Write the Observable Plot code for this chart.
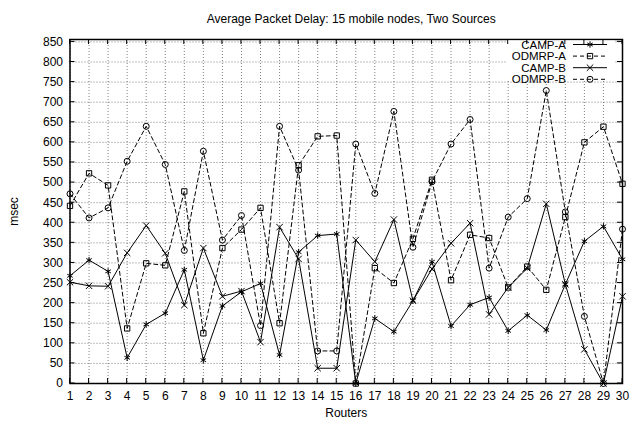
<!DOCTYPE html>
<html><head><meta charset="utf-8">
<script src="https://cdn.jsdelivr.net/npm/d3@7"></script>
<script src="https://cdn.jsdelivr.net/npm/@observablehq/plot@0.6"></script>
<style>
body{margin:0;background:#fff;}
#chart{width:643px;height:423px;}
</style></head><body><div id="chart"></div>
<script>
const title = "Average Packet Delay: 15 mobile nodes, Two Sources";
const routers = [1,2,3,4,5,6,7,8,9,10,11,12,13,14,15,16,17,18,19,20,21,22,23,24,25,26,27,28,29,30];
const campA  = [268,307,279,64,147,175,283,58,193,228,249,71,327,368,372,0,162,129,206,303,143,196,214,131,170,133,247,354,391,309];
const odmrpA = [442,523,493,137,299,294,478,125,337,383,437,150,543,615,617,0,287,250,360,507,257,370,362,239,291,233,414,600,639,497];
const campB  = [252,243,242,325,393,324,195,337,217,230,103,389,310,38,38,357,303,408,206,285,349,399,172,239,287,447,247,85,0,217];
const odmrpB = [472,412,437,553,640,545,331,578,357,418,144,640,531,81,81,596,473,677,339,502,596,657,287,414,460,729,427,167,0,384];
const yTicks = [0,50,100,150,200,250,300,350,400,450,500,550,600,650,700,750,800,850];
const seriesNames = ["CAMP-A","ODMRP-A","CAMP-B","ODMRP-B"];
const seriesValues = [campA, odmrpA, campB, odmrpB];

const symbolNames = ["asterisk","square","times","circle"];
const d3Symbols = [d3.symbolAsterisk, d3.symbolSquare, d3.symbolTimes, d3.symbolCircle];
const dashes = [null, "4,3", null, "4,3"];
const R = 3;

const table = seriesNames.map((name, si) =>
  seriesValues[si].map((v, i) => ({series: name, router: routers[i], value: v})));

const gridStyle = {stroke: "#000", strokeOpacity: 0.5, strokeDasharray: "1,2", strokeWidth: 1};

const marks = [
  Plot.gridX(routers, gridStyle),
  Plot.gridY(yTicks, gridStyle)
];
table.forEach((rows, si) => {
  marks.push(Plot.line(rows, {x: "router", y: "value", stroke: "#000", strokeWidth: 1, strokeDasharray: dashes[si]}));
  marks.push(Plot.dot(rows, {x: "router", y: "value", symbol: symbolNames[si], r: R, stroke: "#000", fill: "none", strokeWidth: 1}));
});
marks.push(
  Plot.axisX(routers, {tickSize: 0, tickPadding: 8, tickFormat: d => String(d), label: "Routers", labelAnchor: "center", labelOffset: 33, labelArrow: "none"}),
  Plot.axisY(yTicks, {tickSize: 0, tickPadding: 7, tickFormat: d => String(d), label: "msec", labelAnchor: "center", labelOffset: 61, labelArrow: "none"}),
  Plot.frame({stroke: "#000", strokeWidth: 1.5}),
  Plot.text([title], {frameAnchor: "top", dy: -25, dx: 5, fontSize: 12})
);

const chart = Plot.plot({
  width: 643, height: 423,
  marginLeft: 69.5, marginRight: 21, marginTop: 39, marginBottom: 40,
  style: {fontFamily: "'Liberation Sans', Arial, Helvetica, sans-serif", fontSize: "12px", background: "#fff", color: "#000"},
  x: {type: "linear", domain: [1, 30]},
  y: {domain: [0, 856]},
  marks
});
document.getElementById("chart").appendChild(chart);

// legend (gnuplot-style key, top right inside the frame)
const svg = d3.select(chart);
const lg = svg.append("g").attr("font-family", "'Liberation Sans', Arial, sans-serif").attr("font-size", 11.5);
lg.append("rect").attr("x", 507).attr("y", 40.5).attr("width", 108).attr("height", 40.5).attr("fill", "#fff");
seriesNames.forEach((name, i) => {
  const y = 44.5 + i * 11.6;
  lg.append("text").attr("x", 566).attr("y", y).attr("dy", "0.35em").attr("text-anchor", "end").attr("fill", "#000").text(name);
  const ln = lg.append("line").attr("x1", 573).attr("x2", 607).attr("y1", y).attr("y2", y).attr("stroke", "#000").attr("stroke-width", 1);
  if (dashes[i]) ln.attr("stroke-dasharray", dashes[i]);
  lg.append("path").attr("transform", `translate(590,${y})`)
    .attr("d", d3.symbol(d3Symbols[i], R * R * Math.PI)())
    .attr("fill", "none").attr("stroke", "#000").attr("stroke-width", 1);
});

// inward tick marks on all four sides (mirrored, as in gnuplot)
const sx = chart.scale("x"), sy = chart.scale("y");
const [yb, yt] = sy.range, [xl, xr] = sx.range;
const tg = svg.append("g").attr("stroke", "#000").attr("stroke-width", 1);
const T = 5;
routers.forEach(r => {
  const x = sx.apply(r);
  tg.append("line").attr("x1", x).attr("x2", x).attr("y1", yb).attr("y2", yb - T);
  tg.append("line").attr("x1", x).attr("x2", x).attr("y1", yt).attr("y2", yt + T);
});
yTicks.forEach(v => {
  const y = sy.apply(v);
  tg.append("line").attr("x1", xl).attr("x2", xl + T).attr("y1", y).attr("y2", y);
  tg.append("line").attr("x1", xr).attr("x2", xr - T).attr("y1", y).attr("y2", y);
});
</script></body></html>
